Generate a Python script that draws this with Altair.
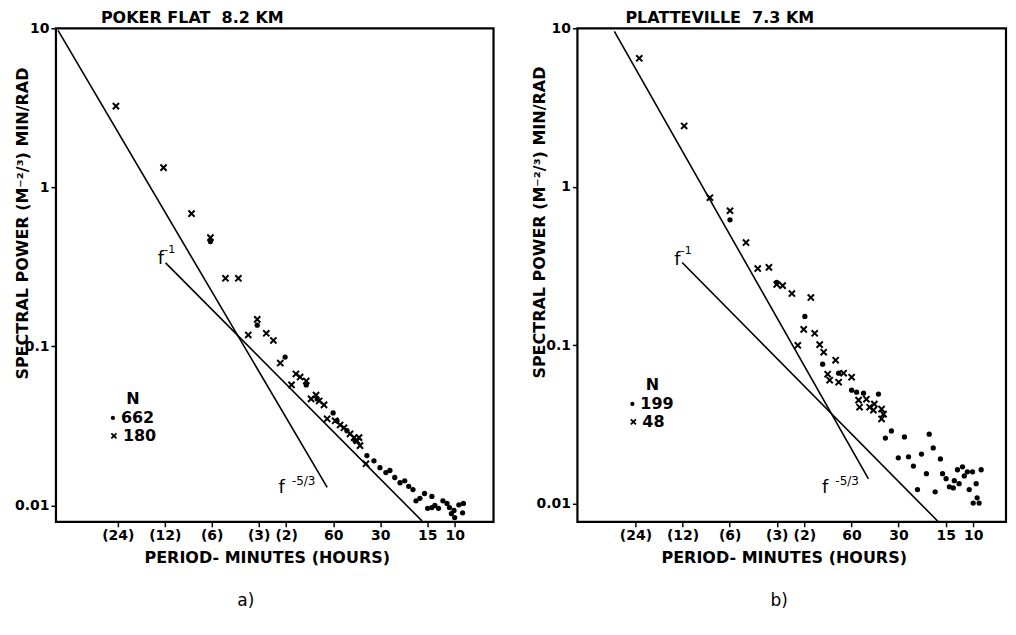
import altair as alt
import pandas as pd

# ---------------- Panel a: POKER FLAT 8.2 KM ----------------
a_cross_period = [1480, 733, 485, 367, 294, 243, 210, 184, 161, 145, 131, 111, 104, 97.8, 89.3,
                  83.2, 77.3, 73.8, 68.7, 65.6, 58.3, 54.2, 51.2, 46.8, 44.1, 41.0, 42.2, 40.4, 37.0]
a_cross_power = [3.24, 1.33, 0.684, 0.483, 0.268, 0.268, 0.118, 0.148, 0.121, 0.109, 0.0786, 0.0573,
                 0.0671, 0.0642, 0.0607, 0.0468, 0.0495, 0.0454, 0.0429, 0.0351, 0.0341, 0.0321,
                 0.0308, 0.0282, 0.0267, 0.0267, 0.0255, 0.0238, 0.0183]
a_dot_period = [367, 184, 122, 89.3, 76.0, 60.1, 56.8, 49.0, 43.5, 36.5, 32.9, 30.1, 27.6, 26.0,
                24.2, 22.4, 20.9, 19.7, 18.5, 17.7, 16.7, 15.6, 14.0, 14.9, 14.0, 13.4, 12.7, 11.9,
                11.2, 10.8, 10.1, 10.0, 9.4, 8.8, 8.9, 10.5]
a_dot_power = [0.456, 0.136, 0.0857, 0.0573, 0.0468, 0.0382, 0.0341, 0.0295, 0.0255, 0.0206,
               0.0191, 0.0173, 0.0161, 0.0166, 0.0150, 0.0139, 0.0143, 0.0132, 0.0126, 0.0107,
               0.0111, 0.0119, 0.0114, 0.0096, 0.0097, 0.0100, 0.0096, 0.0107, 0.0103, 0.0097,
               0.0093, 0.0084, 0.0101, 0.0103, 0.0090, 0.0089]
a_f53_period = [3475, 65.6]
a_f53_power = [9.7, 0.0130]
a_f1_period = [711, 16.2]
a_f1_power = [0.335, 0.0080]
a_counts = ["662", "180"]

# ---------------- Panel b: PLATTEVILLE 7.3 KM ----------------
b_cross_period = [1361, 703, 481, 358, 283, 238, 202, 165, 144, 109, 121, 103, 132, 95.7, 90.2,
                  75.7, 85.1, 82.6, 67.3, 59.8, 72.4, 54.0, 48.1, 53.2, 45.9, 42.8, 43.4, 38.5,
                  37.4, 38.5, 180]
b_cross_power = [6.47, 2.42, 0.853, 0.706, 0.445, 0.305, 0.310, 0.238, 0.212, 0.200, 0.126, 0.119,
                 0.100, 0.101, 0.0904, 0.0805, 0.0657, 0.0602, 0.0667, 0.0629, 0.0585, 0.0451,
                 0.0457, 0.0407, 0.0407, 0.0426, 0.0390, 0.0396, 0.0368, 0.0343, 0.242]
b_dot_period = [358, 180, 119, 91.6, 72.4, 59.8, 55.6, 50.2, 40.3, 33.3, 36.4, 27.5, 19.1, 18.0,
                30.1, 25.9, 21.4, 16.2, 24.1, 19.9, 15.7, 14.9, 12.6, 11.7, 10.9, 10.1, 8.89,
                11.4, 13.2, 12.3, 14.2, 13.4, 9.57, 10.6, 22.7, 17.5, 9.44, 10.0, 9.16]
b_dot_power = [0.619, 0.249, 0.152, 0.0760, 0.0667, 0.0521, 0.0506, 0.0499, 0.0492, 0.0288,
               0.0260, 0.0264, 0.0275, 0.0225, 0.0195, 0.0198, 0.0206, 0.0192, 0.0173, 0.0155,
               0.0155, 0.0144, 0.0164, 0.0171, 0.0159, 0.0159, 0.0164, 0.0150, 0.0140, 0.0134,
               0.0128, 0.0126, 0.0134, 0.0123, 0.0123, 0.0119, 0.0109, 0.0101, 0.0101]
b_f53_period = [1963, 46.7]
b_f53_power = [9.57, 0.01435]
b_f1_period = [724, 16.7]
b_f1_power = [0.333, 0.0077]
b_counts = ["199", "48"]

# ---------------- axes ----------------
tick_periods = [1440, 720, 360, 180, 120, 60, 30, 15, 10]
tick_labels = ["(24)", "(12)", "(6)", "(3)", "(2)", "60", "30", "15", "10"]
power_ticks = [10, 1, 0.1, 0.01]

FONT = "DejaVu Sans"
XPATH = "M-1,-1L1,1M-1,1L1,-1"

label_expr = ""
for v, lab in zip(tick_periods, tick_labels):
    label_expr += f"abs(datum.value - {v}) < 0.01 ? '{lab}' : "
label_expr += "''"


def txt(s, x, y, size=15, weight="bold", align="left", baseline="middle"):
    return alt.Chart(alt.Data(values=[{}])).mark_text(
        font=FONT, fontSize=size, fontWeight=weight, align=align, baseline=baseline,
        color="black"
    ).encode(x=alt.value(x), y=alt.value(y), text=alt.value(s))


def sym(shape, x, y, size, filled, sw=0):
    return alt.Chart(alt.Data(values=[{}])).mark_point(
        shape=shape, size=size, filled=filled, color="black", strokeWidth=sw, opacity=1
    ).encode(x=alt.value(x), y=alt.value(y))


def panel(cp, cv, dp, dv, f53p, f53v, f1p, f1v, xdom, ydom, w, h, title, title_x,
          ytitle_x, ytitle_y, counts, lab, caption_x):
    xenc = alt.X("period:Q",
                 scale=alt.Scale(type="log", domain=xdom, reverse=True, nice=False),
                 axis=alt.Axis(values=tick_periods, labelExpr=label_expr,
                               title="PERIOD- MINUTES (HOURS)", titleX=w / 2 - 8,
                               titleY=36, titleBaseline="middle"))
    yenc = alt.Y("power:Q",
                 scale=alt.Scale(type="log", domain=ydom, nice=False),
                 axis=alt.Axis(values=power_ticks, format="~g",
                               title="SPECTRAL POWER (M⁻²/³) MIN/RAD",
                               titleX=ytitle_x, titleY=ytitle_y, titleBaseline="middle"))
    lines = pd.DataFrame({
        "period": f53p + f1p,
        "power": f53v + f1v,
        "law": ["-5/3", "-5/3", "-1", "-1"],
    })
    crosses = pd.DataFrame({"period": cp, "power": cv})
    dots = pd.DataFrame({"period": dp, "power": dv})

    line_layer = alt.Chart(lines).mark_line(color="black", strokeWidth=1.6).encode(
        x=xenc, y=yenc, detail="law:N")
    cross_layer = alt.Chart(crosses).mark_point(
        shape=XPATH, size=38, filled=False, color="black", strokeWidth=2, opacity=1
    ).encode(x=xenc, y=yenc)
    dot_layer = alt.Chart(dots).mark_circle(size=28, color="black", opacity=1).encode(
        x=xenc, y=yenc)

    f1x, f1y, f53x, f53y, nx, ny = lab
    layers = [
        line_layer, cross_layer, dot_layer,
        txt(title, title_x, -10, size=16),
        txt("f", f1x, f1y, size=18, weight="normal", align="center"),
        txt("-1", f1x + 9, f1y - 9, size=11, weight="normal", align="center"),
        txt("f", f53x, f53y, size=18, weight="normal", align="center"),
        txt("-5/3", f53x + 22, f53y - 7, size=12, weight="normal", align="center"),
        txt("N", nx + 20, ny, size=16, align="center"),
        sym("circle", nx, ny + 19, 18, True),
        txt(counts[0], nx + 8, ny + 19, size=16),
        sym(XPATH, nx + 1, ny + 37, 26, False, 1.8),
        txt(counts[1], nx + 10, ny + 37, size=16),
        txt(caption_x[0], caption_x[1], h + 79, size=17, weight="normal", align="center"),
    ]
    return alt.layer(*layers).properties(width=w, height=h)


pa = panel(a_cross_period, a_cross_power, a_dot_period, a_dot_power,
           a_f53_period, a_f53_power, a_f1_period, a_f1_power,
           [5.64, 3583], [0.0079, 10], 438, 494, "POKER FLAT\u00a0\u00a08.2 KM", 45,
           -33, 195, a_counts, (105, 231, 226, 460, 57, 371), ("a)", 190))
pb = panel(b_cross_period, b_cross_power, b_dot_period, b_dot_power,
           b_f53_period, b_f53_power, b_f1_period, b_f1_power,
           [6.17, 3380], [0.0077, 10], 429, 494, "PLATTEVILLE\u00a0\u00a07.3 KM", 48,
           -38, 194, b_counts, (100, 232, 248, 460, 55, 357), ("b)", 202))

chart = alt.hconcat(pa, pb, spacing=34).properties(
    padding={"left": 5, "top": 0, "right": 0, "bottom": 0},
    background="white"
).configure_view(
    stroke="black", strokeWidth=2.2
).configure_axis(
    grid=False, domain=False, tickColor="black", tickSize=5, tickWidth=1.5,
    labelFont=FONT, labelFontSize=14, labelFontWeight="bold", labelColor="black",
    titleFont=FONT, titleFontSize=16, titleFontWeight="bold", titleColor="black",
    labelPadding=2
)

chart.save("out.html", embed_options={"renderer": "svg", "actions": False})
